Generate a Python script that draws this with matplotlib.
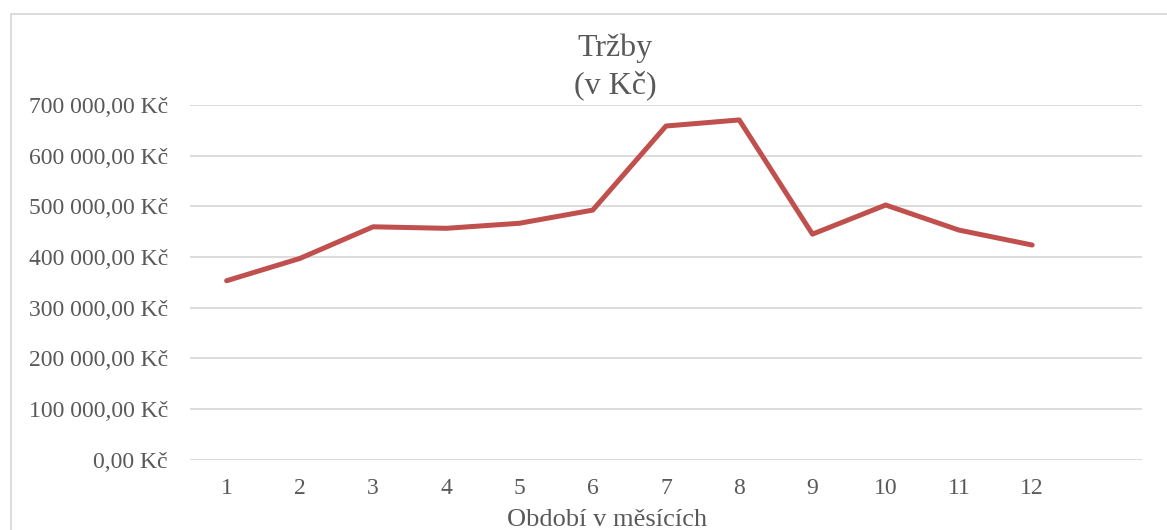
import matplotlib.pyplot as plt
from matplotlib.patches import Rectangle
from matplotlib.ticker import FuncFormatter

# data
months = [1, 2, 3, 4, 5, 6, 7, 8, 9, 10, 11, 12]
sales = [353000, 397000, 459500, 456500, 466500, 492500,
         658500, 670500, 445000, 502500, 453000, 423500]
y_ticks = [0, 100000, 200000, 300000, 400000, 500000, 600000, 700000]

TEXT = '#595959'
GRID = '#d9d9d9'
LINE = '#c0504d'


def czk(v, pos=None):
    s = f"{v:,.2f}".replace(',', ' ').replace('.', ',')
    return s + ' Kč'


def main():
    plt.rcParams['font.family'] = ['Liberation Serif', 'DejaVu Serif']
    fig = plt.figure(figsize=(11.67, 5.30), dpi=100)
    W, H = 1167, 530

    # chart frame (light grey border, runs off right/bottom)
    fig.patches.append(Rectangle((11 / W, -0.2), 1.2, 1 - 14 / 530 + 0.2,
                                 transform=fig.transFigure, fill=False,
                                 edgecolor=GRID, linewidth=1.3))

    ax = fig.add_axes([190 / W, 1 - 459.5 / H, (1142 - 190) / W, (459.5 - 105) / H])
    ax.plot(months, sales, color=LINE, linewidth=3.6, solid_capstyle='round',
            solid_joinstyle='round')

    ax.set_xlim(0.5, 13.5)
    ax.set_ylim(0, 700000)
    ax.set_xticks(months)
    ax.set_yticks(y_ticks)
    ax.yaxis.set_major_formatter(FuncFormatter(czk))
    ax.grid(True, axis='y', color=GRID, linewidth=1.3)
    ax.set_axisbelow(True)
    for s in ax.spines.values():
        s.set_visible(False)
    ax.tick_params(axis='both', length=0, labelsize=17, colors=TEXT)
    ax.tick_params(axis='y', pad=16)
    ax.tick_params(axis='x', pad=13)

    fig.text(607 / W, 1 - 520 / H, "Období v měsících", ha='center', va='center',
             fontsize=19, color=TEXT)

    fig.text(615 / W, 1 - 48 / H, "Tržby", ha='center', va='center',
             fontsize=23, color=TEXT)
    fig.text(615 / W, 1 - 85 / H, "(v Kč)", ha='center', va='center',
             fontsize=23, color=TEXT)

    fig.savefig('out.png', dpi=100)


if __name__ == "__main__":
    main()
